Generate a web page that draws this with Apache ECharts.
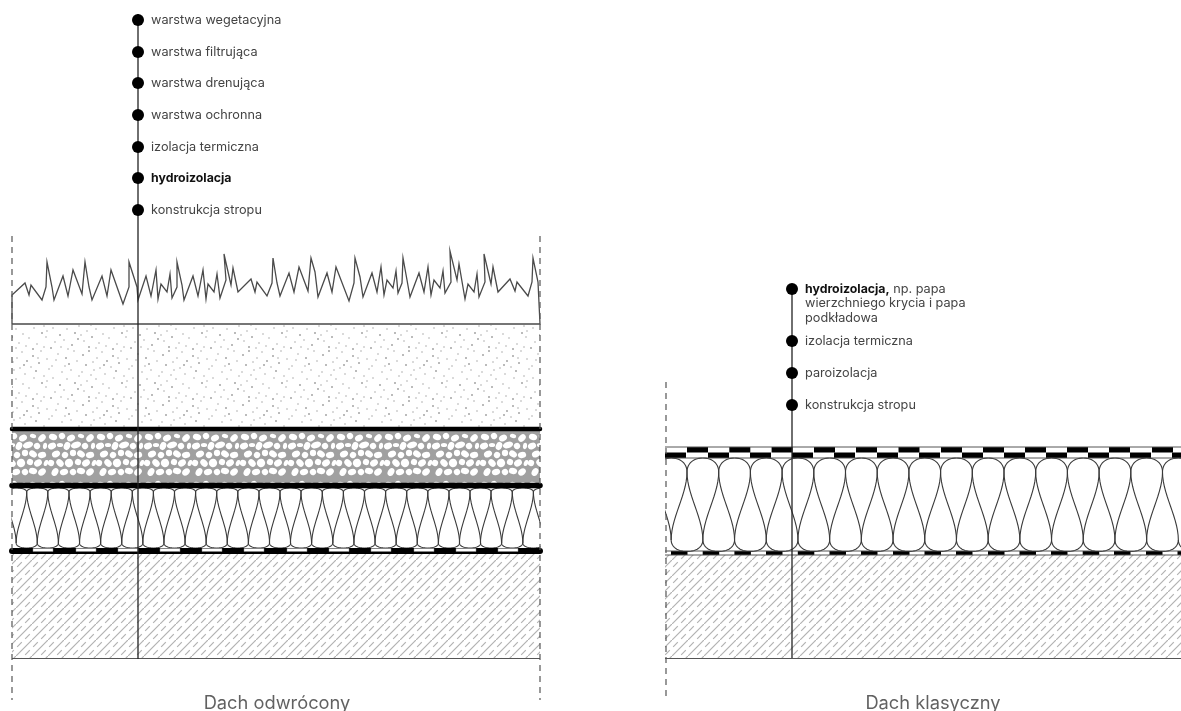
<!DOCTYPE html>
<html><head><meta charset="utf-8">
<style>html,body{margin:0;padding:0;background:#fff}#c{width:1181px;height:711px}</style>
<script src="https://cdn.jsdelivr.net/npm/echarts@6/dist/echarts.min.js"></script>
</head><body><div id="c"></div>
<script>
const FONT = 'Inter, "Noto Sans", sans-serif';
// labels
const leftLabels = ['warstwa wegetacyjna','warstwa filtrująca','warstwa drenująca','warstwa ochronna','izolacja termiczna','{b|hydroizolacja}','konstrukcja stropu'];
const leftDots = [20,52,83,115,147,178,210];
const rightLabels = ['{b|hydroizolacja,} np. papa\nwierzchniego krycia i papa\npodkładowa','izolacja termiczna','paroizolacja','konstrukcja stropu'];
const rightDots = [289,341,373,405];
const titles = [['Dach odwrócony',277,704],['Dach klasyczny',933,704]];
// grass outline, read point by point
const grass = [[12,324],[12,295],[25,283],[29,295],[31,285],[42,300],[46,287],[47,262],[52,287],[54,300],[63,276],[68,296],[73,270],[82,294],[85,262],[89,287],[92,300],[102,276],[107,296],[111,270],[123,304],[129,287],[129,262],[137,287],[138,300],[146,276],[151,296],[156,270],[158,299],[161,284],[167,292],[170,274],[172,298],[177,287],[177,262],[182,285],[184,300],[193,276],[198,296],[203,270],[206,299],[208,284],[214,292],[217,274],[220,298],[226,280],[224,254],[231,285],[233,268],[238,292],[251,279],[255,292],[257,282],[267,296],[272,283],[273,258],[277,283],[280,296],[289,273],[294,292],[299,267],[308,291],[311,258],[315,272],[318,297],[327,273],[332,292],[336,267],[349,301],[354,283],[355,258],[360,277],[363,297],[372,273],[377,292],[381,267],[384,295],[387,280],[393,288],[396,271],[398,293],[402,283],[403,258],[407,280],[410,297],[419,273],[424,292],[428,267],[431,295],[434,280],[440,288],[443,271],[445,293],[451,282],[450,251],[457,280],[459,264],[465,299],[468,284],[474,292],[477,274],[479,297],[485,282],[484,254],[491,284],[493,267],[498,292],[510,279],[515,291],[517,282],[528,296],[532,282],[533,258],[538,282],[540,284],[540,324],[12,324]];
// layers: x0, x1, y0, y1, texture
const layers = [[12,540,325,428,'dots'],[12,540,430,484,'gravel'],[12,540,554,658,'hatch'],[665,1181,555,658,'hatch']];
// thick rules: y, x0, x1, width
const rules = [[429,12,540,4.5],[485.5,12,540,5.5],[551,12,540,6]];
// left membrane: white slots
const leftSlots = [33,76,118,160,202,244,287,329,371,414,456,498];
// right roof membranes
const upperBlack = [687,729.3,771.6,814,856,898.5,941,983,1025,1067,1109,1152];
const lowerBlack = [665,708,750,792,834,877,919,962,1004,1046,1088,1130,1172];
const thinBlack = [671,702.7,734.4,766,797.8,829.5,861,893,924.5,956,988,1019.5,1051,1082.7,1114,1146,1177.5];
// insulation crests
const leftCrests = [5.6,26.7,47.8,69,90.1,111.2,132.3,153.4,174.5,195.6,216.7,237.8,259,280,301,322.3,343.4,364.5,385.6,406.7,427.8,449,470,491,512.3,533.4];
const rightCrests = [655.3,687,718.7,750.4,782.1,813.8,845.5,877.2,908.9,940.6,972.3,1004,1035.7,1067.4,1099.1,1130.8,1162.5];
// thin lines
const baseLines = [[[12,658.5],[540,658.5]],[[665,658.5],[1181,658.5]],[[665,447],[1181,447]],[[665,458],[1181,458]],[[665,551],[1181,551]],[[665,555],[1181,555]]];
const leaders = [[[138,14],[138,659]],[[792,289],[792,658]]];
const dashed = [[[12,236],[12,700]],[[540,236],[540,700]],[[666,382],[666,700]]];
const masks = [[0,11.5,440,600],[540.5,665,440,600]];
// texture tiles
const speckTile = [[3,5],[9,1],[17,8],[22,2],[33,6],[41,1],[47,9],[58,4],[66,8],[74,1],[6,15],[13,12],[27,11],[31,17],[39,13],[52,16],[56,10],[69,14],[77,11],[2,22],[11,25],[20,18],[25,24],[36,21],[44,26],[49,19],[62,22],[71,20],[79,26],[7,31],[16,29],[23,34],[34,28],[42,33],[53,28],[60,35],[67,29],[75,33],[4,41],[12,37],[19,43],[29,38],[37,44],[46,37],[55,42],[64,40],[72,45],[9,47],[16,48],[26,46],[33,49],[44,47],[51,48],[61,47],[68,49],[78,39],[1,35],[24,15],[47,31],[65,16],[14,20],[38,8]];
const gravelTile = [[5,5,4,3,.3],[14,4,3,3,1],[23,6,4,3,-.5],[33,4,3,2,.2],[42,6,3,4,.8],[4,14,3,4,1.2],[12,13,3,2,0],[19,14,3,4,.4],[28,13,5,3,-.3],[37,14,3,3,.9],[45,14,2,3,.1],[8,22,4,3,-.4],[17,23,3,3,.7],[25,21,3,3,0],[33,22,4,3,.6],[42,23,4,3,-.2],[3,31,3,3,.3],[12,31,4,3,.8],[21,31,4,4,-.6],[30,30,3,3,.2],[38,31,3,4,1],[46,31,2,3,.4],[7,40,3,4,.5],[16,40,4,3,-.3],[25,40,3,3,.9],[33,39,4,3,.2],[42,40,4,3,-.7]];
function tile(w,h,draw){const c=document.createElement('canvas');c.width=w;c.height=h;draw(c.getContext('2d'),w,h);return c;}
const textures = {
 dots: tile(80,50,(g)=>{g.fillStyle='#a4a4a4';speckTile.forEach(p=>{g.beginPath();g.arc(p[0],p[1],p[0]%3===0?1:.75,0,7);g.fill();});}),
 gravel: tile(48,48,(g,w,h)=>{g.fillStyle='#a0a0a0';g.fillRect(0,0,w,h);g.filter='blur(0.4px)';g.fillStyle='#fff';gravelTile.forEach(e=>{[-48,0,48].forEach(dx=>[-48,0,48].forEach(dy=>{g.beginPath();g.ellipse(e[0]+dx,e[1]+dy,e[2]*1.05,e[3]*1.05,e[4],0,7);g.fill();}));});}),
 hatch: tile(16,16,(g)=>{g.strokeStyle='#b2b2b2';g.lineWidth=1.2;
   [[-2,18,18,-2],[1.2,6.8,5.8,2.2],[9.2,14.8,13.8,10.2]].forEach(s=>{g.beginPath();g.moveTo(s[0],s[1]);g.lineTo(s[2],s[3]);g.stroke();});
 })
};
function cubic(a,b,c,d,t){const u=1-t;return u*u*u*a+3*u*u*t*b+3*u*t*t*c+t*t*t*d;}
function sampleCurve(api,p0,c1,c2,p1){const pts=[];for(let i=0;i<=14;i++){const t=i/14;pts.push(api.coord([cubic(p0[0],c1[0],c2[0],p1[0],t),cubic(p0[1],c1[1],c2[1],p1[1],t)]));}return pts;}
function lineSeries(list,color,width,z,extra){return list.map(d=>({type:'line',data:d,symbol:'none',silent:true,z:z,animation:false,clip:false,lineStyle:Object.assign({color:color,width:width},extra||{})}));}
function rectSeries(rows,fillOf,z){return {type:'custom',silent:true,z:z,clip:false,animation:false,data:rows,encode:{x:[0,1],y:[2,3]},renderItem:(p,api)=>{
  const a=api.coord([api.value(0),api.value(2)]),b=api.coord([api.value(1),api.value(3)]);
  return {type:'rect',shape:{x:a[0],y:a[1],width:b[0]-a[0],height:b[1]-a[1]},style:fillOf(p.dataIndex)};}};}
function insulation(xs,p,yTop,yPinchT,yPinchB,yBot,bend,z){const K=.6;return {type:'custom',silent:true,z:z,clip:false,animation:false,data:xs.map(x=>[x]),encode:{x:0},renderItem:(q,api)=>{
  const x=api.value(0),h=yPinchB-yPinchT,ctl=h*bend,dT=yPinchT-yTop,dB=yBot-yPinchB,r=p/2;
  const curves=[
    sampleCurve(api,[x,yPinchT],[x,yPinchT-K*dT],[x+r*(1-K),yTop],[x+r,yTop]),
    sampleCurve(api,[x+r,yTop],[x+r*(1+K),yTop],[x+p,yPinchT-K*dT],[x+p,yPinchT]),
    sampleCurve(api,[x,yPinchT],[x,yPinchT+ctl],[x+r,yPinchB-ctl],[x+r,yPinchB]),
    sampleCurve(api,[x,yPinchT],[x,yPinchT+ctl],[x-r,yPinchB-ctl],[x-r,yPinchB]),
    sampleCurve(api,[x+r,yPinchB],[x+r,yPinchB+K*dB],[x+r+r*(1-K),yBot],[x+p,yBot]),
    sampleCurve(api,[x+p,yBot],[x+p+r*K,yBot],[x+p+r,yPinchB+K*dB],[x+p+r,yPinchB])
  ];
  return {type:'group',children:curves.map(c=>({type:'polyline',shape:{points:c},style:{fill:null,stroke:'#3a3a3a',lineWidth:1.1}}))};}};}
function labelSeries(x,ys,texts){return {type:'scatter',silent:true,z:9,animation:false,symbol:'circle',symbolSize:12,itemStyle:{color:'#000',opacity:1},
  data:ys.map((y,i)=>({value:[x,y],name:texts[i]})),
  label:{show:true,position:[19,-1.3],align:'left',verticalAlign:'top',formatter:o=>o.name.split('\n').map(l=>l.indexOf('{b|')>=0?l.replace(/^(\{b\|[^}]*\})(.*)$/,(m,a,r)=>a+(r?'{n|'+r+'}':'')):'{n|'+l+'}').join('\n'),
    rich:{n:{fontFamily:FONT,fontSize:12.7,color:'#444',lineHeight:14.5},b:{fontFamily:FONT,fontSize:12.3,fontWeight:'bold',color:'#111',lineHeight:14.5}}}};}
const series=[
  rectSeries(layers,i=>({fill:{image:textures[layers[i][4]],repeat:'repeat'}}),1),
  insulation(leftCrests,21.1,488,492,543,548,.33,2),
  insulation(rightCrests,31.7,458,472,540,551.5,.33,2),
  rectSeries(masks,()=>({fill:'#fff'}),3),
  ...rules.map(r=>({type:'line',symbol:'none',silent:true,z:4,animation:false,data:[[r[1],r[0]],[r[2],r[0]]],lineStyle:{color:'#000',width:r[3],cap:'round'}})),
  rectSeries(leftSlots.map(x=>[x,x+20,548.5,551.5]),()=>({fill:'#fff',stroke:'#888',lineWidth:.5}),5),
  rectSeries([[665,1181,448,452.5]],()=>({fill:'#fff'}),4),
  rectSeries(upperBlack.map(x=>[x,x+21,447,452.5]),()=>({fill:'#000'}),5),
  rectSeries(lowerBlack.map(x=>[x,x+21,452.5,458]),()=>({fill:'#000'}),5),
  rectSeries(thinBlack.map(x=>[x,x+16.5,551,555]),()=>({fill:'#000'}),5),
  {type:'line',data:grass,symbol:'none',silent:true,z:6,animation:false,clip:false,lineStyle:{color:'#4a4a4a',width:1.3,join:'miter'}},
  ...lineSeries(baseLines,'#555',1,6),
  ...lineSeries(dashed,'#555',1.2,6,{type:[6,5]}),
  ...lineSeries(leaders,'#222',1.3,7),
  labelSeries(138,leftDots,leftLabels),
  labelSeries(792,rightDots,rightLabels),
  {type:'scatter',symbolSize:0,silent:true,z:9,animation:false,clip:false,data:titles.map(t=>({value:[t[1],t[2]],name:t[0]})),
    label:{show:true,position:'inside',align:'center',verticalAlign:'middle',formatter:'{b}',fontFamily:FONT,fontSize:18.3,color:'#3a3a3a'}}
];
const chart=echarts.init(document.getElementById('c'),null,{renderer:'canvas'});
chart.setOption({animation:false,backgroundColor:'#fff',
  grid:{left:0,right:0,top:0,bottom:0},
  xAxis:{type:'value',min:0,max:1181,show:false},
  yAxis:{type:'value',min:0,max:711,inverse:true,show:false},
  series});
</script></body></html>
